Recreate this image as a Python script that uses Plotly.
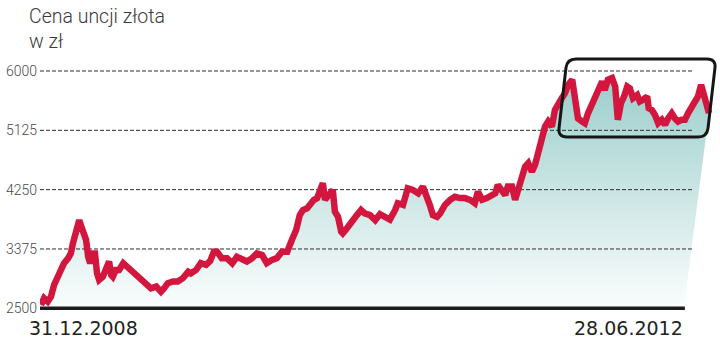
import pandas as pd
import plotly.graph_objects as go

# ---------------- data ----------------
title_lines = ["Cena uncji złota", "w zł"]
start_label = "31.12.2008"
end_label = "28.06.2012"
start_date = "2008-12-31"

# days after 31.12.2008
day_offsets = [
    0, 6, 13, 19, 25, 32, 38, 44, 52, 57, 61, 67, 73, 76, 80, 86, 90, 94, 99, 103,
    107, 111, 118, 124, 130, 134, 137, 143, 149, 157, 164, 172, 181, 191, 200, 210,
    220, 229, 235, 242, 252, 261, 271, 281, 286, 296, 305, 315, 323, 330, 336, 345,
    355, 365, 374, 384, 393, 403, 412, 422, 431, 441, 450, 460, 470, 479, 487, 494,
    500, 508, 513, 521, 527, 533, 538, 542, 548, 557, 561, 567, 573, 576, 584, 594,
    603, 611, 618, 628, 638, 647, 657, 666, 676, 681, 691, 700, 710, 720, 729, 737,
    742, 748, 756, 762, 771, 781, 790, 800, 809, 819, 828, 834, 842, 851, 861, 867,
    872, 880, 886, 891, 899, 905, 910, 918, 924, 930, 937, 943, 949, 956, 962, 968,
    975, 981, 987, 994, 1000, 1006, 1014, 1017, 1021, 1025, 1033, 1038, 1044, 1052,
    1057, 1063, 1071, 1076, 1082, 1090, 1096, 1101, 1107, 1113, 1119, 1124, 1130,
    1138, 1143, 1149, 1157, 1160, 1166, 1172, 1178, 1185, 1191, 1197, 1204, 1210,
    1216, 1223, 1229, 1235, 1243, 1248, 1254, 1260, 1264, 1271, 1275,
]

# gold price per ounce, PLN
prices = [
    2550, 2650, 2600, 2670, 2845, 2965, 3065, 3165, 3240, 3310, 3460, 3655, 3800, 3730,
    3605, 3510, 3260, 3165, 3310, 3310, 3015, 2920, 2965, 3115, 3190, 2990, 2965, 3065,
    3065, 3165, 3115, 3065, 3015, 2920, 2870, 2795, 2820, 2745, 2795, 2870, 2895, 2895,
    2945, 3040, 3015, 3065, 3165, 3140, 3200, 3335, 3335, 3240, 3240, 3165, 3260, 3215,
    3190, 3240, 3310, 3285, 3165, 3215, 3240, 3335, 3335, 3510, 3655, 3875, 3950, 3975,
    4025, 4100, 4125, 4270, 4345, 4100, 4145, 4245, 3925, 3850, 3630, 3605, 3680, 3800,
    3875, 3950, 3900, 3875, 3800, 3890, 3850, 3810, 3950, 4050, 4025, 4270, 4245, 4195,
    4295, 4145, 4025, 3875, 3850, 3900, 4025, 4100, 4145, 4125, 4125, 4100, 4050, 4220,
    4100, 4125, 4170, 4195, 4320, 4245, 4170, 4295, 4295, 4100, 4245, 4440, 4590, 4640,
    4515, 4615, 4780, 5060, 5180, 5255, 5180, 5425, 5525, 5600, 5670, 5795, 5870, 5670,
    5425, 5300, 5255, 5230, 5375, 5525, 5575, 5745, 5845, 5720, 5870, 5895, 5770, 5280,
    5525, 5625, 5770, 5745, 5600, 5645, 5550, 5575, 5625, 5450, 5425, 5350, 5230, 5280,
    5205, 5300, 5375, 5300, 5255, 5280, 5280, 5375, 5475, 5525, 5625, 5795, 5670, 5475,
    5380,
]

y_ticks = [2500, 3375, 4250, 5125, 6000]
grid_values = [3375, 4250, 5125, 6000]
base_value = 2500

# ---------------- geometry / style ----------------
W, H = 720, 339
ML, MR, MT, MB = 40, 4, 50, 27
PW, PH = W - ML - MR, H - MT - MB

def px_x(sx):
    return (sx - ML) / PW

def px_y(sy):
    return (H - MB - sy) / PH

n = min(len(day_offsets), len(prices))
t0 = pd.Timestamp(start_date)
dates = [t0 + pd.Timedelta(days=d) for d in day_offsets[:n]]
vals = prices[:n]

x_range = [t0 - pd.Timedelta(days=1.9), t0 + pd.Timedelta(days=1288.4)]
fill_close = t0 + pd.Timedelta(days=1227)
grid_end = t0 + pd.Timedelta(days=1243)
base_end = t0 + pd.Timedelta(days=1229)

RED = "#d3163d"

fig = go.Figure()

# gradient area
fig.add_trace(go.Scatter(
    x=[dates[0]] + dates + [fill_close],
    y=[base_value] + vals + [base_value],
    mode="lines", fill="toself", line=dict(width=0),
    fillgradient=dict(type="vertical",
                      colorscale=[[0, "#fbfdfd"], [1, "#98cdca"]],
                      start=base_value, stop=6000),
    hoverinfo="skip", showlegend=False,
))

# dashed grid lines
for g in grid_values:
    fig.add_trace(go.Scatter(
        x=[x_range[0], grid_end], y=[g, g], mode="lines",
        line=dict(color="#2e2e2e", width=1, dash="4px,2px"),
        hoverinfo="skip", showlegend=False,
    ))

# baseline
fig.add_trace(go.Scatter(
    x=[x_range[0], base_end], y=[base_value, base_value], mode="lines",
    line=dict(color="#1c1c1c", width=3.5),
    hoverinfo="skip", showlegend=False,
))

# price line
fig.add_trace(go.Scatter(
    x=dates, y=vals, mode="lines",
    line=dict(color=RED, width=6.5),
    hoverinfo="skip", showlegend=False,
))

# rounded, slanted highlight box (pixel geometry -> paper coords)
corners = [(567, 59), (716, 59), (707, 137), (558, 137)]
r = 9.0
def _toward(p, q, d):
    dx, dy = q[0] - p[0], q[1] - p[1]
    L = (dx * dx + dy * dy) ** 0.5
    return (p[0] + dx / L * d, p[1] + dy / L * d)
parts = []
for i, c in enumerate(corners):
    prev_c = corners[i - 1]
    next_c = corners[(i + 1) % 4]
    a = _toward(c, prev_c, r)
    b = _toward(c, next_c, r)
    cmd = "M" if i == 0 else "L"
    parts.append(f"{cmd} {px_x(a[0]):.5f},{px_y(a[1]):.5f}")
    parts.append(f"Q {px_x(c[0]):.5f},{px_y(c[1]):.5f} {px_x(b[0]):.5f},{px_y(b[1]):.5f}")
parts.append("Z")
fig.add_shape(type="path", path=" ".join(parts), xref="paper", yref="paper",
              line=dict(color="#161616", width=3), layer="above")

annotations = [
    dict(text="<br>".join(title_lines), xref="paper", yref="paper",
         x=px_x(27), y=px_y(3), xanchor="left", yanchor="top", align="left",
         showarrow=False,
         font=dict(family="Roboto", size=19.5, color="#3a3a3a", weight=300)),
    dict(text=start_label, xref="paper", yref="paper",
         x=px_x(27), y=px_y(315), xanchor="left", yanchor="top",
         showarrow=False,
         font=dict(family="DejaVu Sans", size=19, color="#222222")),
    dict(text=end_label, xref="paper", yref="paper",
         x=px_x(685), y=px_y(315), xanchor="right", yanchor="top",
         showarrow=False,
         font=dict(family="DejaVu Sans", size=19, color="#222222")),
]

fig.update_layout(
    width=W, height=H,
    margin=dict(l=ML, r=MR, t=MT, b=MB, pad=0),
    paper_bgcolor="white", plot_bgcolor="white",
    showlegend=False,
    annotations=annotations,
    xaxis=dict(type="date", range=x_range, visible=False, fixedrange=True),
    yaxis=dict(range=[2445.4, 6309.7], tickvals=y_ticks,
               ticktext=[str(v) for v in y_ticks],
               showgrid=False, zeroline=False, showline=False, ticks="",
               ticklabelstandoff=2,
               tickfont=dict(family="Roboto", size=14, color="#4a4a4a", weight=300),
               fixedrange=True),
)

fig.write_html("out.html", config={"displayModeBar": False})
